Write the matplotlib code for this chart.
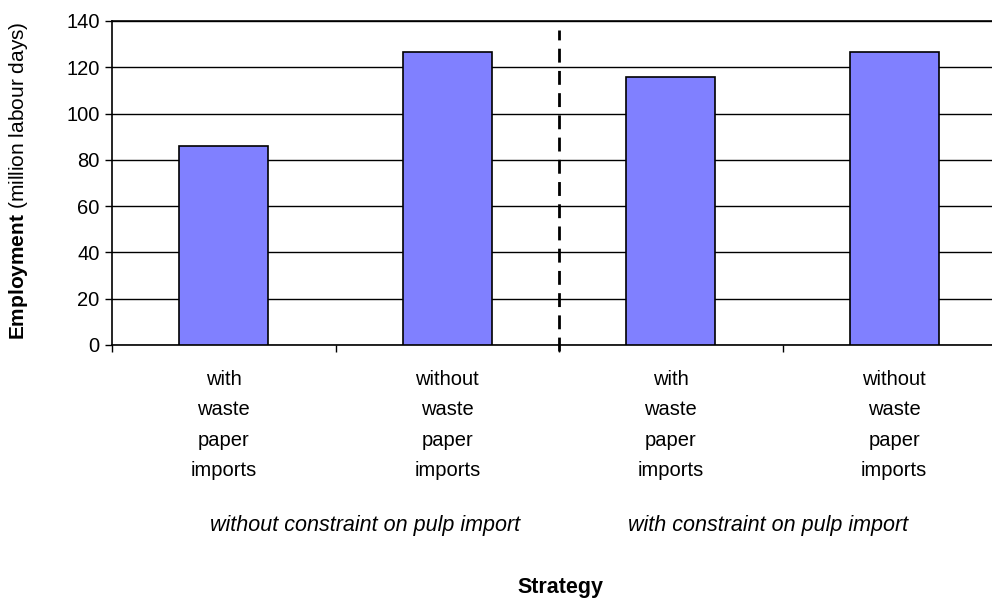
import matplotlib.pyplot as plt
import numpy as np

plt.rcParams['font.family'] = ['Liberation Sans', 'DejaVu Sans']
plt.rcParams['mathtext.fontset'] = 'custom'
plt.rcParams['mathtext.rm'] = 'Liberation Sans'
plt.rcParams['mathtext.bf'] = 'Liberation Sans:bold'

# data
categories = ["with\nwaste\npaper\nimports", "without\nwaste\npaper\nimports",
              "with\nwaste\npaper\nimports", "without\nwaste\npaper\nimports"]
employment = [86.2, 126.7, 115.7, 126.7]
groups = ["without constraint on pulp import", "with constraint on pulp import"]
yticks = [0, 20, 40, 60, 80, 100, 120, 140]

fig = plt.figure(figsize=(9.92, 5.99), dpi=100)
ax = fig.add_axes([112 / 992, 254 / 599, 894 / 992, 324 / 599])

x = np.arange(1, len(employment) + 1)
ax.bar(x, employment, width=0.40, color="#8080FF", edgecolor="black", linewidth=1.2, zorder=3)

ax.set_xlim(0.5, 4.5)
ax.set_ylim(0, 140)
ax.set_yticks(yticks)
ax.set_yticklabels([str(v) for v in yticks], fontsize=14.5)
ax.yaxis.grid(True, color="black", linewidth=1.0, zorder=0)
ax.set_xticks([0.5, 1.5, 2.5, 3.5])
ax.set_xticklabels([])
ax.tick_params(axis="both", direction="out", length=5, width=1, color="black")
ax.tick_params(axis="y", pad=4)
ax.spines["right"].set_visible(False)
for s in ["left", "bottom", "top"]:
    ax.spines[s].set_linewidth(1.2)

# dashed separator between the two groups
ax.plot([2.5, 2.5], [-2.5, 136], color="black", linestyle=(0, (5, 3)), linewidth=2,
        clip_on=False, zorder=4)

# category labels, one line at a time
for xi, lab in zip(x, categories):
    for k, line in enumerate(lab.split("\n")):
        ax.annotate(line, xy=(xi, 0), xycoords=("data", "axes fraction"),
                    xytext=(0, -24.5 - k * 30.5 * 0.72), textcoords="offset points",
                    ha="center", va="center", fontsize=14.5)

fig.text(365 / 992, 1 - 525 / 599, groups[0], ha="center", va="center",
         fontsize=15.5, style="italic")
fig.text(768 / 992, 1 - 525 / 599, groups[1], ha="center", va="center",
         fontsize=15.5, style="italic")
fig.text(560 / 992, 1 - 588 / 599, "Strategy", ha="center", va="center",
         fontsize=15.5, fontweight="bold")

fig.text(19 / 992, 1 - 181 / 599, r"$\mathbf{Employment}$ (million labour days)",
         rotation=90, ha="center", va="center", fontsize=15)

fig.savefig("out.png", dpi=100)
